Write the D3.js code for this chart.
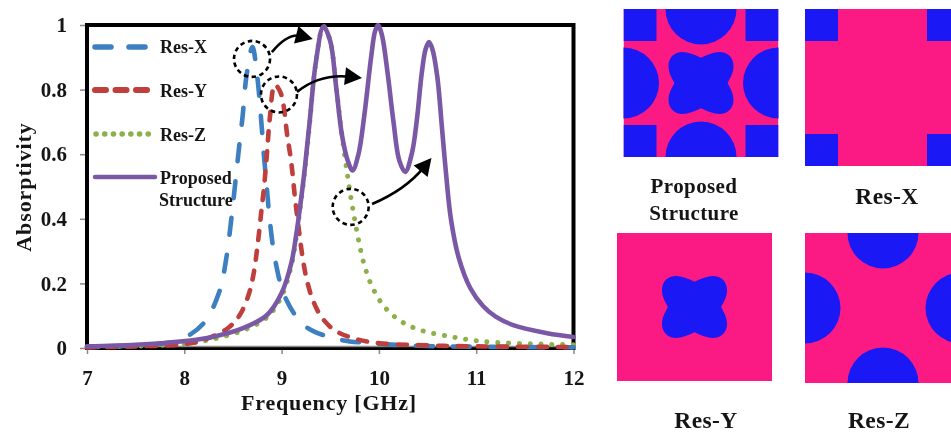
<!DOCTYPE html>
<html><head><meta charset="utf-8">
<script src="https://cdn.jsdelivr.net/npm/d3@7"></script>
<style>html,body{margin:0;padding:0;background:#fff;overflow:hidden}svg{display:block;filter:blur(0.5px)}text{font-family:"Liberation Serif",serif;font-weight:bold;fill:#151515}</style>
</head><body><svg id="c" width="951" height="432"></svg>
<script>
const xTicks=[7,8,9,10,11,12];
const yTicks=[0,0.2,0.4,0.6,0.8,1];
const yTickLabels=["0","0.2","0.4","0.6","0.8","1"];
const freqX=[7,7.5,7.8,7.96,8.2,8.36,8.43,8.49,8.52,8.56,8.6,8.64,8.7,8.75,8.79,8.82,8.85,8.88,8.94,9.04,9.24,9.57,9.9,10.5,11,12];
const valsX=[0.003,0.008,0.015,0.025,0.077,0.174,0.275,0.417,0.5,0.613,0.72,0.845,0.932,0.84,0.706,0.59,0.49,0.39,0.263,0.155,0.068,0.028,0.015,0.006,0.004,0.002];
const freqY=[7,7.5,8,8.2,8.45,8.57,8.66,8.71,8.75,8.79,8.82,8.85,8.88,8.93,8.99,9.06,9.1,9.14,9.18,9.22,9.26,9.32,9.41,9.54,9.73,9.97,10.5,11,12];
const valsY=[0.002,0.005,0.012,0.025,0.062,0.102,0.164,0.226,0.31,0.418,0.5,0.604,0.715,0.815,0.79,0.654,0.573,0.458,0.36,0.272,0.21,0.149,0.096,0.056,0.031,0.016,0.008,0.005,0.003];
const freqZ=[7,7.5,8,8.3,8.61,8.85,9,9.1,9.15,9.19,9.24,9.29,9.35,9.43,9.5,9.56,9.62,9.67,9.71,9.75,9.79,9.85,9.93,10.05,10.22,10.42,10.76,11.08,11.67,12];
const valsZ=[0.003,0.006,0.013,0.028,0.055,0.095,0.16,0.255,0.34,0.43,0.55,0.7,0.88,0.995,0.95,0.81,0.66,0.55,0.47,0.4,0.335,0.257,0.19,0.13,0.084,0.056,0.034,0.02,0.012,0.01];
const freqP=[7,7.5,7.96,8.3,8.61,8.85,9,9.1,9.15,9.19,9.24,9.29,9.35,9.43,9.5,9.56,9.62,9.68,9.73,9.79,9.85,9.92,9.96,9.99,10.03,10.09,10.15,10.21,10.27,10.34,10.39,10.44,10.48,10.515,10.55,10.6,10.65,10.69,10.74,10.82,10.94,11.07,11.2,11.38,11.73,12];
const valsP=[0.005,0.01,0.02,0.035,0.062,0.102,0.17,0.263,0.35,0.437,0.56,0.706,0.88,0.995,0.95,0.81,0.66,0.58,0.55,0.6,0.72,0.9,0.98,1,0.97,0.85,0.7,0.58,0.545,0.604,0.706,0.85,0.925,0.947,0.925,0.84,0.675,0.54,0.4,0.28,0.185,0.13,0.097,0.071,0.046,0.034];
const legendNames=["Res-X","Res-Y","Res-Z"];
const seriesColors={x:"#3d7fc1",y:"#bf3f3d",z:"#8cb04a",p:"#7a58a5"};
const pink="#fb1a84",blue="#1a18f5";

const svg=d3.select("#c");
const x=d3.scaleLinear().domain([7,12]).range([87,573.5]);
const y=d3.scaleLinear().domain([0,1]).range([348,25]);
const line=d3.line().x(d=>x(d[0])).y(d=>y(d[1])).curve(d3.curveCatmullRom.alpha(0.5));
const pair=(a,b)=>a.map((f,i)=>[f,b[i]]);

// axes
const gx=svg.append("g").attr("transform","translate(0,348)").call(d3.axisBottom(x).tickValues(xTicks).tickSize(6).tickFormat(d3.format("d")));
const gy=svg.append("g").attr("transform","translate(87,0)").call(d3.axisLeft(y).tickValues(yTicks).tickSize(7).tickFormat((d,i)=>yTickLabels[i]));
[gx,gy].forEach(g=>{g.select(".domain").remove();g.selectAll("line").attr("stroke","#888").attr("stroke-width",1.5);g.selectAll("text").style("font-size","21px").attr("fill","#151515");});
gx.selectAll("text").attr("dy",0).attr("y",37);
gy.selectAll("text").attr("x",-20);
svg.append("rect").attr("x",87).attr("y",25).attr("width",486.5).attr("height",323).attr("fill","none").attr("stroke","#000").attr("stroke-width",4);
svg.append("line").attr("x1",85).attr("x2",575).attr("y1",346.5).attr("y2",346.5).attr("stroke","#888").attr("stroke-width",1.5);

// series
const draw=(d,c,w,dash,cap,off)=>svg.append("path").attr("d",line(d)).attr("fill","none").attr("stroke",c).attr("stroke-width",w).attr("stroke-dasharray",dash).attr("stroke-dashoffset",off||0).attr("stroke-linecap",cap);
draw(pair(freqZ,valsZ),seriesColors.z,5,"0.1 10.7","round");
draw(pair(freqX,valsX),seriesColors.x,4.6,"17 20","round",6);
draw(pair(freqY,valsY),seriesColors.y,4.6,"9 11","round");
draw(pair(freqP,valsP),seriesColors.p,4.6,null,"round");

// legend
const lg=(yy,c,x0,x1,dash,w)=>svg.append("line").attr("x1",x0).attr("x2",x1).attr("y1",yy).attr("y2",yy).attr("stroke",c).attr("stroke-width",w).attr("stroke-dasharray",dash).attr("stroke-linecap","round");
lg(47,seriesColors.x,95,147,"16 18",5.5);
lg(90,seriesColors.y,95,147,"11 9.5",6);
lg(134,seriesColors.z,96,153,"0.1 8.6",5.5);
lg(177,seriesColors.p,95,155,null,4.5);
const lab=(t,xx,yy,s)=>svg.append("text").attr("x",xx).attr("y",yy).style("font-size",s+"px").text(t);
legendNames.forEach((n,i)=>lab(n,160,[53,97,141][i],18));
lab("Proposed",160,184,18);lab("Structure",159,206,18);

// annotations, in data units
const circles=[[8.696,0.895],[8.973,0.785],[9.71,0.437]];
const arrows=[[8.90,0.916,9.066,0.976,9.32,0.957],[9.158,0.793,9.395,0.85,9.826,0.836],[9.93,0.446,10.27,0.489,10.54,0.588]];
circles.forEach(c=>svg.append("circle").attr("cx",x(c[0])).attr("cy",y(c[1])).attr("r",18).attr("fill","none").attr("stroke","#000").attr("stroke-width",2.6).attr("stroke-dasharray","4.5 3.5"));
arrows.forEach(a=>{
  const [x0,y0,cx,cy,x1,y1]=[x(a[0]),y(a[1]),x(a[2]),y(a[3]),x(a[4]),y(a[5])];
  const ang=Math.atan2(y1-cy,x1-cx);
  const bx=x1-12*Math.cos(ang),by=y1-12*Math.sin(ang);
  svg.append("path").attr("d",`M${x0},${y0}Q${cx},${cy} ${bx},${by}`).attr("fill","none").attr("stroke","#000").attr("stroke-width",2.6);
  const h=d3.path(),L=17,W=9;
  h.moveTo(x1,y1);
  h.lineTo(x1-L*Math.cos(ang)-W*Math.sin(ang),y1-L*Math.sin(ang)+W*Math.cos(ang));
  h.lineTo(x1-L*Math.cos(ang)+W*Math.sin(ang),y1-L*Math.sin(ang)-W*Math.cos(ang));
  h.closePath();
  svg.append("path").attr("d",h.toString()).attr("fill","#000");
});

// axis titles
svg.append("text").attr("x",329).attr("y",410).attr("text-anchor","middle").style("font-size","22px").style("letter-spacing","0.8px").text("Frequency [GHz]");
svg.append("text").attr("transform","translate(31,187) rotate(-90)").attr("text-anchor","middle").style("font-size","22px").style("letter-spacing","0.9px").text("Absorptivity");

// structure panels
const defs=svg.append("defs");
function panel(id,px,py,pw,ph,o){
  defs.append("clipPath").attr("id",id).append("rect").attr("x",px).attr("y",py).attr("width",pw).attr("height",ph);
  const g=svg.append("g").attr("clip-path",`url(#${id})`);
  g.append("rect").attr("x",px).attr("y",py).attr("width",pw).attr("height",ph).attr("fill",pink);
  const sw=33,sh=32,r=35.5;
  if(o.squares)[[px,py],[px+pw-sw,py],[px,py+ph-sh],[px+pw-sw,py+ph-sh]].forEach(s=>g.append("rect").attr("x",s[0]).attr("y",s[1]).attr("width",sw).attr("height",sh).attr("fill",blue));
  if(o.circles)[[px+pw/2,py],[px+pw/2,py+ph],[px,py+ph/2],[px+pw,py+ph/2]].forEach(c=>g.append("circle").attr("cx",c[0]).attr("cy",c[1]).attr("r",r).attr("fill",blue));
  if(o.clover){
    const cx=px+pw/2,cy=py+ph/2,a=32.5,b=31;
    // one lobe, from the top notch to the left notch, mirrored into the other quadrants
    const forward=[[[-.2,-.92],[-.4,-1],[-.57,-1]],[[-.82,-1],[-1,-.82],[-1,-.55]],[[-1,-.3],[-.88,-.15],[-.82,0]]];
    const backward=[[[-.88,-.15],[-1,-.3],[-1,-.55]],[[-1,-.82],[-.82,-1],[-.57,-1]],[[-.4,-1],[-.2,-.92],[0,-.815]]];
    const p=d3.path();
    p.moveTo(cx,cy-.815*b);
    const put=(segs,sx,sy)=>segs.forEach(s=>p.bezierCurveTo(cx+sx*s[0][0]*a,cy+sy*s[0][1]*b,cx+sx*s[1][0]*a,cy+sy*s[1][1]*b,cx+sx*s[2][0]*a,cy+sy*s[2][1]*b));
    put(forward,1,1);put(backward,1,-1);put(forward,-1,-1);put(backward,-1,1);
    p.closePath();
    g.append("path").attr("d",p.toString()).attr("fill",blue);
  }
}
panel("pa",623.5,9,155,148,{squares:true,circles:true,clover:true});
panel("pb",805,9,155,157,{squares:true});
panel("pc",617,233,155,148,{clover:true});
panel("pd",805,233,156,150,{circles:true});
const cap=(t,xx,yy,s)=>svg.append("text").attr("x",xx).attr("y",yy).attr("text-anchor","middle").style("font-size",s+"px").style("letter-spacing","0.4px").text(t);
cap("Proposed",694,193,21);cap("Structure",694,220,21);
cap("Res-X",887,204,23.5);cap("Res-Y",706,428,23.5);cap("Res-Z",879,428,23.5);
</script></body></html>
